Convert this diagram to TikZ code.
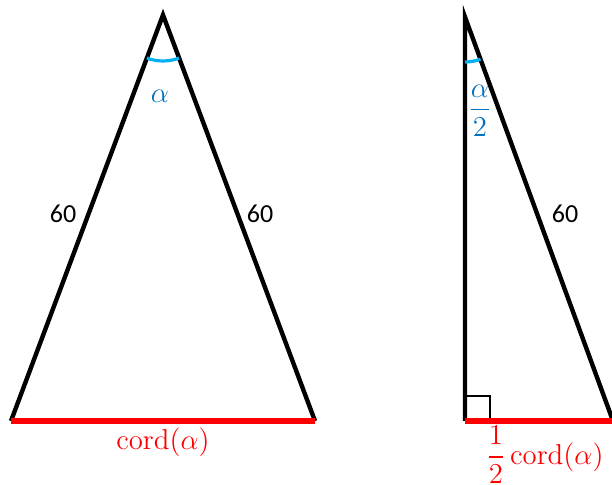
\documentclass[tikz,border=0pt]{standalone}
\usepackage{amsmath}
\usepackage[no-math]{fontspec}
\setmainfont{Carlito}
\usepackage{tikz}
\usetikzlibrary{calc}
\definecolor{arccol}{RGB}{0,176,240}
\definecolor{angcol}{RGB}{0,112,192}
\definecolor{chordcol}{RGB}{255,0,0}

\begin{document}
\begin{tikzpicture}[
  x=0.5pt, y=0.5pt,
  side/.style={line width=2.2pt, line join=miter},
  chord/.style={line width=2.6pt, color=chordcol},
  anglearc/.style={line width=1.6pt, color=arccol},
  lab/.style={font=\fontsize{13}{15}\selectfont, inner sep=1pt},
  mathlab/.style={font=\fontsize{13.5}{15}\selectfont, inner sep=1pt},
  anglab/.style={mathlab, text=angcol},
  chordlab/.style={mathlab, text=chordcol}
]
\useasboundingbox (0,0) rectangle (612,485);

% isosceles triangle
\coordinate (apex) at (163,470);
\coordinate (bl) at (11,64);
\coordinate (br) at (315,64);

\draw[side] (bl) -- (apex) -- (br);
\draw[chord] (bl) -- (br);
\draw[anglearc] ([shift={(249.5:46)}]apex) arc (249.5:290.5:46);

\node[anglab] (alpha) at (160,389) {$\alpha$};
\node[lab] (leftside) at (63,271) {60};
\node[lab] (rightside) at (260,271) {60};
\node[chordlab] (cord) at (163,43) {$\mathrm{cord}(\alpha)$};

% right triangle (half)
\coordinate (top) at (465,468);
\coordinate (foot) at (465,64);
\coordinate (end) at (613,64);

\draw[side] (foot) -- (top) -- (end);
\draw[line width=1pt] ($(foot)+(0,25)$) -- ++(25,0) -- ++(0,-25);
\draw[chord] (foot) -- (end);
\draw[anglearc] ([shift={(270:45)}]top) arc (270:290.2:45);

\node[anglab] (halfalpha) at (480,374) {$\dfrac{\alpha}{2}$};
\node[lab] (hyp) at (565,271) {60};
\node[chordlab] (halfcord) at (545,30) {$\dfrac{1}{2}\,\mathrm{cord}(\alpha)$};
\end{tikzpicture}
\end{document}
